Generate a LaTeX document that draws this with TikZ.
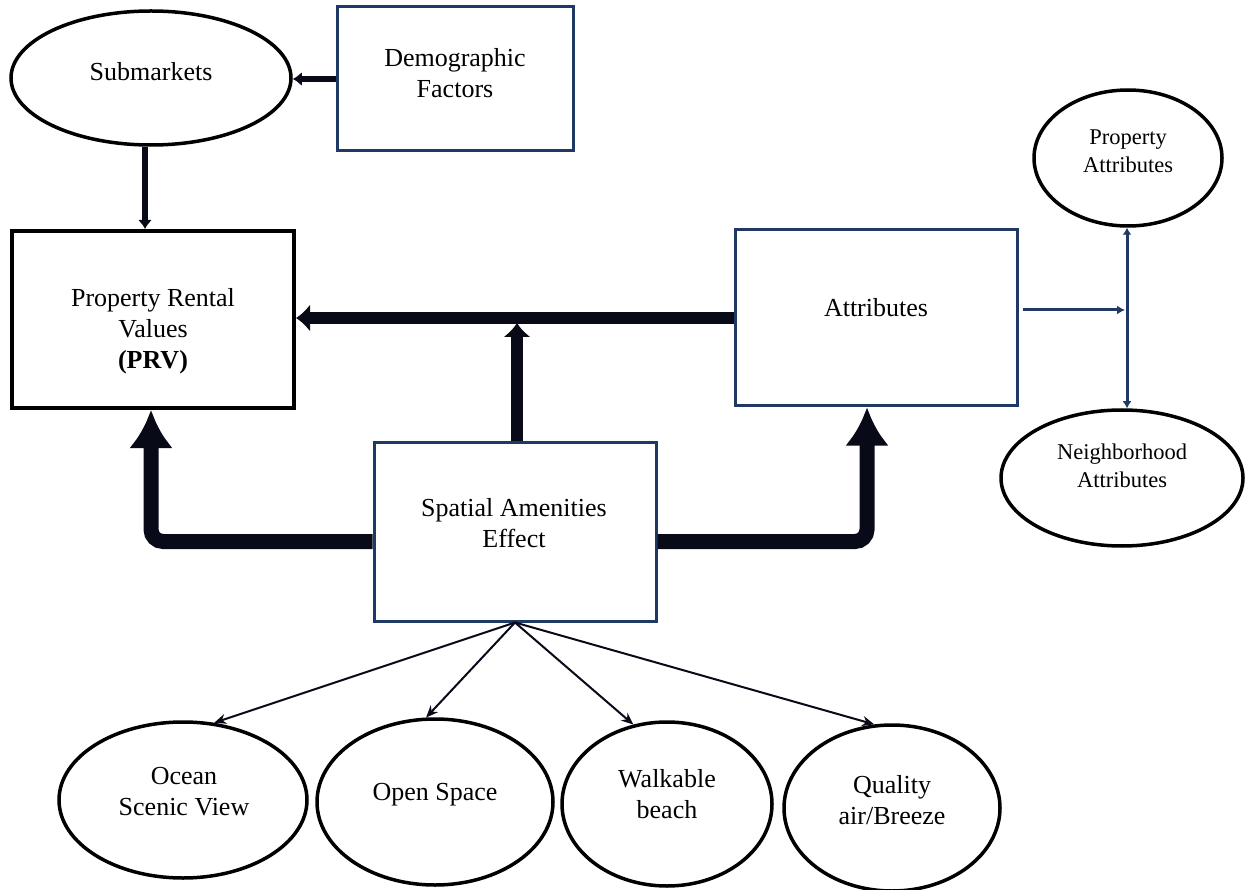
\documentclass[tikz,border=0pt]{standalone}
\usepackage{fontspec}
\setmainfont{Liberation Serif}
\usetikzlibrary{arrows.meta,shapes.geometric}
\definecolor{navy}{RGB}{31,56,100}
\definecolor{ink}{RGB}{8,10,24}
\begin{document}
\begin{tikzpicture}[x=1pt,y=-1pt,
  ell/.style={ellipse, draw=black, line width=3.5pt, inner sep=0pt},
  box/.style={rectangle, draw=navy, line width=3pt, inner sep=0pt},
  bigtxt/.style={font=\fontsize{26}{31}\selectfont, align=center, inner sep=0pt},
  smalltxt/.style={font=\fontsize{22.5}{28}\selectfont, align=center, inner sep=0pt},
  medarr/.style={draw=ink, line width=6pt, -{Latex[length=9pt,width=14pt]}},
  thickarr/.style={draw=ink, line width=12pt, -{Latex[length=14pt,width=28pt]}},
  bigarr/.style={draw=ink, line width=15pt, rounded corners=12pt, -{Latex[length=38pt,width=44pt]}},
  thinarr/.style={draw=ink, line width=2pt, -{Stealth[length=12pt,width=10pt]}},
  attrarr/.style={draw=navy, line width=3pt, -{Latex[length=8pt,width=9pt]}},
  dblarr/.style={draw=navy, line width=3pt, {Latex[length=7pt,width=9pt]}-{Latex[length=7pt,width=9pt]}}
]
\useasboundingbox (0,0) rectangle (1245,890);

% shapes
\node[ell, minimum width=280pt, minimum height=134pt] (sub) at (151,78) {};
\node[box, minimum width=236pt, minimum height=144pt] (dem) at (455,79) {};
\node[box, draw=black, line width=4pt, minimum width=282pt, minimum height=177pt] (prv) at (153,319.5) {};
\node[box, minimum width=282pt, minimum height=176pt] (attr) at (876,318) {};
\node[box, minimum width=282pt, minimum height=179pt] (sp) at (515,531.5) {};
\node[ell, minimum width=188pt, minimum height=136pt] (pa) at (1128,158) {};
\node[ell, minimum width=242pt, minimum height=136pt] (na) at (1122,478) {};
\node[ell, minimum width=248pt, minimum height=156pt] (oc) at (183,800) {};
\node[ell, minimum width=236pt, minimum height=166pt] (os) at (435,802) {};
\node[ell, minimum width=210pt, minimum height=164pt] (wb) at (667,804) {};
\node[ell, minimum width=216pt, minimum height=166pt] (qa) at (892,808) {};

% texts
\node[bigtxt] (subT) at (151,72) {Submarkets};
\node[bigtxt] (demT) at (455,73) {Demographic\\Factors};
\node[bigtxt] (prvT) at (153,331) {Property Rental\\Values\\\textbf{(PRV)}};
\node[bigtxt] (attrT) at (876,308) {Attributes};
\node[bigtxt] (spT) at (514,523) {Spatial Amenities\\Effect};
\node[smalltxt] (paT) at (1128,151) {Property\\Attributes};
\node[smalltxt] (naT) at (1122,466) {Neighborhood\\Attributes};
\node[bigtxt] (ocT) at (184,792) {Ocean\\Scenic View};
\node[bigtxt] (osT) at (435,795) {Open Space};
\node[bigtxt] (wbT) at (667,794) {Walkable\\beach};
\node[bigtxt] (qaT) at (892,800) {Quality\\air/Breeze};

% connectors
\coordinate (jn) at (517,323);
\coordinate (vj) at (1125,310);

\draw[medarr] (dem.west) -- (dem.west -| sub.east);
\draw[medarr] ([xshift=-6pt]sub.south) -- ([xshift=-6pt]sub.south |- prv.north);
\draw[thickarr] (attr.west) -- (attr.west -| prv.east);
\draw[thickarr] (sp.north -| jn) -- (jn);
\draw[bigarr] ([yshift=-10pt]sp.west) -| ([xshift=-2pt]prv.south);
\draw[bigarr] ([yshift=-10pt]sp.east) -| ([xshift=-9pt]attr.south);
\draw[attrarr] ([xshift=4pt]attr.east |- vj) -- (vj);
\draw[dblarr] ([xshift=-1pt]pa.south) -- ([xshift=-1pt]pa.south |- na.north);
\draw[thinarr] (sp.south) -- (oc.68);
\draw[thinarr] (sp.south) -- (os.96);
\draw[thinarr] (sp.south) -- (wb.113);
\draw[thinarr] (sp.south) -- (qa.102);
\end{tikzpicture}
\end{document}
